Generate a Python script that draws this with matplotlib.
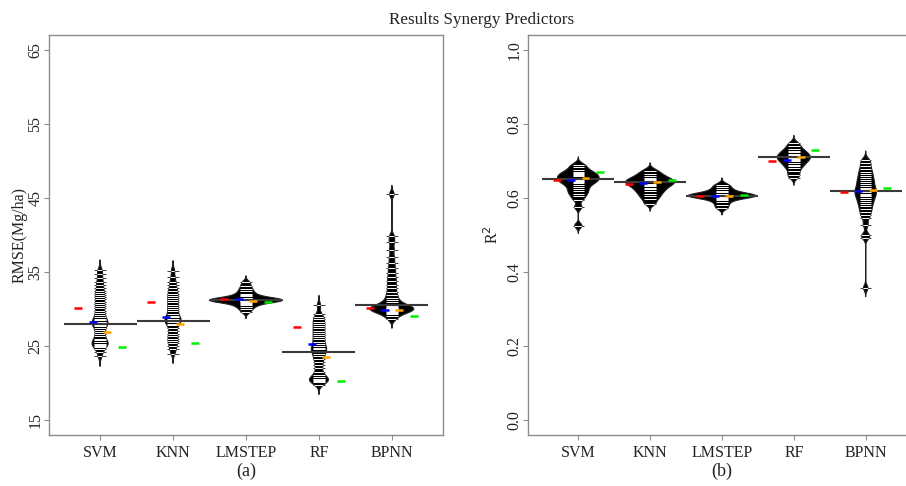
import matplotlib
matplotlib.use("Agg")
import matplotlib.pyplot as plt
import numpy as np
from matplotlib.patches import Polygon

plt.rcParams["font.family"] = ["Liberation Serif", "DejaVu Serif"]

models = ["SVM", "KNN", "LMSTEP", "RF", "BPNN"]

rmse_svm = [23.6, 24.2, 24.6, 24.9, 25.0, 25.2, 25.3, 25.5, 25.6, 25.8, 26.0, 26.3,
            26.6, 26.9, 27.2, 27.5, 27.7, 27.9, 28.0, 28.2, 28.3, 28.5, 28.7, 28.9,
            29.2, 29.5, 29.8, 30.1, 30.4, 30.7, 31.0, 31.3, 31.6, 31.9, 32.2, 32.5,
            32.9, 33.3, 33.7, 34.2, 34.8, 35.3]
rmse_knn = [24.0, 24.6, 25.0, 25.4, 25.7, 26.0, 26.3, 26.6, 27.0, 27.4, 27.8, 28.0,
            28.2, 28.4, 28.5, 28.7, 28.9, 29.1, 29.4, 29.7, 30.0, 30.3, 30.6, 30.9,
            31.2, 31.5, 31.8, 32.1, 32.4, 32.8, 33.2, 33.7, 34.3, 35.2]
rmse_lmstep = [29.6, 30.0, 30.3, 30.5, 30.7, 30.85, 30.95, 31.05, 31.1, 31.15, 31.2,
               31.2, 31.2, 31.25, 31.3, 31.35, 31.45, 31.55, 31.7, 31.9, 32.1, 32.4,
               32.7, 33.1, 33.6]
rmse_rf = [19.8, 20.1, 20.3, 20.4, 20.5, 20.6, 20.8, 21.1, 21.5, 22.0, 22.5, 22.9,
           23.3, 23.6, 23.9, 24.2, 24.4, 24.6, 24.8, 25.0, 25.3, 25.6, 25.9, 26.2,
           26.5, 26.8, 27.1, 27.4, 27.7, 28.0, 28.3, 28.6, 28.9, 29.3, 30.5]
rmse_bpnn = [28.6, 29.0, 29.3, 29.5, 29.6, 29.7, 29.8, 29.9, 30.0, 30.05, 30.1, 30.2,
             30.3, 30.4, 30.5, 30.7, 30.9, 31.2, 31.5, 31.9, 32.3, 32.8, 33.3, 33.8,
             34.3, 34.9, 35.5, 36.2, 37.0, 38.0, 39.0, 39.8, 45.5]
rmse_mean = [28.0, 28.4, 31.2, 24.2, 30.5]
rmse_red = [30.1, 30.9, 31.4, 27.6, 30.1]
rmse_blue = [28.2, 28.9, 31.3, 25.3, 29.9]
rmse_orange = [26.9, 28.0, 31.1, 23.5, 29.9]
rmse_green = [24.9, 25.4, 30.9, 20.3, 29.0]

# R^2 observations
r2_svm = [0.525, 0.575, 0.595, 0.605, 0.612, 0.618, 0.624, 0.630, 0.635, 0.640,
          0.643, 0.646, 0.649, 0.652, 0.655, 0.658, 0.661, 0.664, 0.667, 0.671,
          0.676, 0.683, 0.690]
r2_knn = [0.585, 0.597, 0.605, 0.612, 0.618, 0.623, 0.628, 0.632, 0.636, 0.639,
          0.642, 0.645, 0.648, 0.651, 0.655, 0.660, 0.666, 0.674]
r2_lmstep = [0.572, 0.580, 0.588, 0.594, 0.598, 0.601, 0.603, 0.604, 0.605, 0.606,
             0.607, 0.608, 0.610, 0.612, 0.615, 0.619, 0.624, 0.630, 0.636]
r2_rf = [0.655, 0.663, 0.672, 0.680, 0.686, 0.690, 0.695, 0.699, 0.702, 0.705,
         0.708, 0.711, 0.714, 0.717, 0.720, 0.724, 0.728, 0.733, 0.740, 0.748]
r2_bpnn = [0.357, 0.493, 0.500, 0.527, 0.545, 0.555, 0.563, 0.570, 0.577, 0.583,
           0.589, 0.594, 0.599, 0.604, 0.608, 0.612, 0.616, 0.620, 0.624, 0.628,
           0.633, 0.638, 0.643, 0.648, 0.653, 0.659, 0.665, 0.671, 0.678, 0.686,
           0.695, 0.703]
r2_mean = [0.650, 0.642, 0.605, 0.710, 0.620]
r2_red = [0.648, 0.637, 0.606, 0.699, 0.615]
r2_blue = [0.648, 0.640, 0.605, 0.702, 0.620]
r2_orange = [0.653, 0.642, 0.605, 0.710, 0.622]
r2_green = [0.669, 0.648, 0.607, 0.729, 0.626]

# bean look: max half width and kernel bandwidth per bean
rmse_half = [0.11, 0.11, 0.5, 0.13, 0.3]
rmse_bw = [0.45, 0.45, 0.3, 0.45, 0.4]
r2_half = [0.29, 0.34, 0.47, 0.23, 0.15]
r2_bw = [0.007, 0.007, 0.006, 0.007, 0.008]

MARK_COLORS = ["#ff0000", "#0000ff", "#ffa500", "#00ee00"]
MARK_OFFSETS = [-0.3, -0.1, 0.1, 0.3]
SPINE = "#8c8c8c"
TEXT = "#222222"


def bean(ax, pos, vals, bw, half, ll=0.16):
    vals = np.asarray(vals, dtype=float)
    grid = np.linspace(vals.min() - 3 * bw, vals.max() + 3 * bw, 500)
    dens = np.exp(-0.5 * ((grid[:, None] - vals[None, :]) / bw) ** 2).sum(axis=1)
    dens = dens / dens.max() * half
    xs = np.concatenate([pos - dens, (pos + dens)[::-1]])
    ys = np.concatenate([grid, grid[::-1]])
    poly = Polygon(np.column_stack([xs, ys]), closed=True, fc="black",
                   ec="#222222", lw=0.8, zorder=2)
    ax.add_patch(poly)
    ax.hlines(vals, pos - ll / 2, pos + ll / 2, colors="#3c3c3c", lw=0.7, zorder=3)
    white = ax.hlines(vals, pos - ll / 2, pos + ll / 2, colors="white", lw=0.7, zorder=4)
    white.set_clip_path(poly)


def panel(ax, groups, bws, halves, means, marks, ylim, yticks, yticklabels, ylabel, sub):
    for i, (vals, bw, half) in enumerate(zip(groups, bws, halves)):
        pos = i + 1
        bean(ax, pos, vals, bw, half)
        ax.hlines(means[i], pos - 0.5, pos + 0.5, colors="#3a3a3a", lw=1.5, zorder=5)
        for col, off, m in zip(MARK_COLORS, MARK_OFFSETS, marks):
            ax.hlines(m[i], pos + off - 0.055, pos + off + 0.055, colors=col, lw=1.8, zorder=6)

    ax.set_xlim(0.3, 5.7)
    ax.set_ylim(*ylim)
    ax.set_xticks(range(1, 6))
    ax.set_xticklabels(models)
    ax.set_yticks(yticks)
    ax.set_yticklabels(yticklabels, rotation=90, va="center")
    for sp in ax.spines.values():
        sp.set_color(SPINE)
        sp.set_linewidth(1.0)
    ax.tick_params(axis="both", colors=SPINE, labelcolor=TEXT, length=3.5,
                   width=0.8, labelsize=11.5)
    ax.tick_params(axis="x", pad=4)
    ax.tick_params(axis="y", pad=0.5)
    ax.set_ylabel(ylabel, fontsize=11.5, color=TEXT)
    ax.text(0.5, -0.09, sub, transform=ax.transAxes, ha="center", va="center",
            fontsize=13, color=TEXT)


fig = plt.figure(figsize=(9.06, 4.86), dpi=100)
ax1 = fig.add_axes([49 / 906, 1 - 435 / 486, 394 / 906, 400 / 486])
ax2 = fig.add_axes([528 / 906, 1 - 435 / 486, 388 / 906, 400 / 486])

panel(ax1, [rmse_svm, rmse_knn, rmse_lmstep, rmse_rf, rmse_bpnn], rmse_bw, rmse_half,
      rmse_mean, [rmse_red, rmse_blue, rmse_orange, rmse_green], (13, 67),
      [15, 25, 35, 45, 55, 65], ["15", "25", "35", "45", "55", "65"], "RMSE(Mg/ha)", "(a)")
ax1.yaxis.set_label_coords(-0.054, 0.5)

panel(ax2, [r2_svm, r2_knn, r2_lmstep, r2_rf, r2_bpnn], r2_bw, r2_half,
      r2_mean, [r2_red, r2_blue, r2_orange, r2_green], (-0.04, 1.04),
      [0.0, 0.2, 0.4, 0.6, 0.8, 1.0], ["0.0", "0.2", "0.4", "0.6", "0.8", "1.0"],
      "R$^2$", "(b)")
ax2.yaxis.set_label_coords(-0.067, 0.5)

fig.text(482 / 906, 1 - 20 / 486, "Results Synergy Predictors", ha="center",
         va="center", fontsize=12.3, color=TEXT)

fig.savefig("out.png", dpi=100)
